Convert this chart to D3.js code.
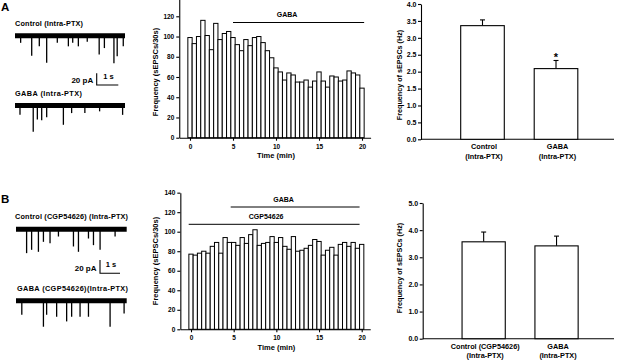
<!DOCTYPE html>
<html>
<head>
<meta charset="utf-8">
<script src="https://cdn.jsdelivr.net/npm/d3@7"></script>
<style>
  body { margin: 0; background: #fff; }
  svg { font-family: "Liberation Sans", Arial, sans-serif; font-weight: bold; }
  .axis path, .axis line { stroke: #000; stroke-width: 1.1; }
  .axis text { font-size: 6.5px; font-weight: bold; fill: #000; }
  .bars .axis text { font-size: 7px; }
</style>
</head>
<body>
<div id="fig"></div>
<script>
// time bins (min), one every 30 s
const timeBins = d3.range(0, 20.5, 0.5);
// sEPSCs per 30 s, panel A
const freqA = [99, 93, 100, 116, 101, 87, 113, 97, 103, 105, 99, 92, 86, 97, 91, 99, 100, 94, 86, 79,
  69, 65, 57, 64, 62, 55, 55, 57, 50, 56, 65, 56, 50, 61, 60, 56, 57, 66, 64, 62, 49];
// sEPSCs per 30 s, panel B
const freqB = [77, 76, 78, 80, 78, 85, 89, 78, 94, 89, 89, 86, 94, 88, 97, 102, 86, 88, 89, 95,
  89, 94, 85, 82, 95, 80, 81, 83, 86, 92, 90, 76, 81, 84, 76, 87, 89, 85, 89, 83, 87];
const timeTicks = [0, 5, 10, 15, 20];

// drug application periods (min)
const drugA = [{ name: "GABA", start: 5, end: 20.25 }];
const drugB = [{ name: "GABA", start: 4.65, end: 19.75 }, { name: "CGP54626", start: -0.27, end: 19.75 }];

// mean frequency (Hz) and SEM
const catsA = [["Control", "(Intra-PTX)"], ["GABA", "(Intra-PTX)"]];
const meanA = [3.36, 2.09];
const semA = [0.17, 0.24];
const catsB = [["Control (CGP54626)", "(Intra-PTX)"], ["GABA", "(Intra-PTX)"]];
const meanB = [3.57, 3.42];
const semB = [0.36, 0.36];

// example traces: event time (s) and amplitude (pA)
const trA1_t = [0.26, 0.77, 1.12, 1.46, 1.95, 2.46, 2.66, 2.92, 3.33, 3.88, 4.12, 4.56, 4.71, 4.99];
const trA1_a = [12, 34, 18, 46, 12, 18, 12, 18, 10, 32, 21, 47, 35, 18];
const trA2_t = [0.23, 0.84, 1.03, 1.23, 1.46, 2.23, 2.61, 3.22, 3.9, 4.96];
const trA2_a = [16, 45, 24, 25, 20, 33, 13, 13, 10, 16];
const trB1_t = [0.53, 0.78, 1.12, 1.37, 1.7, 2.12, 2.87, 3.12, 3.62, 3.87, 4.2, 4.95];
const trB1_a = [36, 31, 34, 19, 21, 11, 26, 34, 14, 24, 31, 11];
const trB2_t = [0.29, 1.37, 1.53, 2.03, 2.53, 2.78, 3.2, 3.62, 4.7, 5.4];
const trB2_a = [21, 39, 21, 24, 31, 24, 24, 24, 39, 19];

const W = 617, H = 363;
const svg = d3.select("#fig").append("svg").attr("width", W).attr("height", H);

// panel letters
svg.append("text").attr("x", 1).attr("y", 11).attr("font-size", 11.5).text("A");
svg.append("text").attr("x", 1).attr("y", 203).attr("font-size", 11.5).text("B");

// ---- traces ----
function trace(title, tt, aa, o) {
  const x = d3.scaleLinear().domain([0, o.dur]).range([o.x0, o.x1]);
  const y = d3.scaleLinear().domain([0, 20]).range([o.base, o.base + o.px20]);
  const g = svg.append("g");
  g.append("text").attr("x", o.x0 + o.tdx).attr("y", o.base - 10).attr("font-size", o.fs)
    .attr("textLength", o.tw).text(title);
  g.append("line").attr("x1", o.x0).attr("x2", o.x1).attr("y1", o.base).attr("y2", o.base)
    .attr("stroke", "#000").attr("stroke-width", 5);
  g.selectAll("line.ev").data(tt).enter().append("line").attr("class", "ev")
    .attr("x1", d => x(d)).attr("x2", d => x(d))
    .attr("y1", o.base).attr("y2", (d, i) => y(aa[i]))
    .attr("stroke", "#000").attr("stroke-width", 1.3);
  return { x, y };
}
trace("Control (Intra-PTX)", trA1_t, trA1_a, { dur: 5.07, x0: 15, x1: 125, base: 35.8, px20: 11.7, tdx: 0, fs: 7.3, tw: 68 });
trace("GABA (Intra-PTX)", trA2_t, trA2_a, { dur: 5.07, x0: 15, x1: 125, base: 105.5, px20: 11.7, tdx: 0, fs: 7.3, tw: 67 });
trace("Control (CGP54626) (Intra-PTX)", trB1_t, trB1_a, { dur: 5.53, x0: 16, x1: 126.7, base: 229.2, px20: 13.3, tdx: -1, fs: 7.3, tw: 113 });
trace("GABA (CGP54626)(Intra-PTX)", trB2_t, trB2_a, { dur: 5.53, x0: 16, x1: 126.7, base: 300.8, px20: 13.3, tdx: 1, fs: 7.3, tw: 111 });

// scale bars
function scaleBar(xv, ytop, ybot, xr, labY) {
  svg.append("path").attr("d", `M${xv},${ytop}V${ybot}H${xr}`)
    .attr("fill", "none").attr("stroke", "#000").attr("stroke-width", 1.1);
  svg.append("text").attr("x", xv - 3.5).attr("y", ybot - 2).attr("text-anchor", "end")
    .attr("font-size", 8).text("20 pA");
  svg.append("text").attr("x", (xv + xr) / 2 + 1).attr("y", labY).attr("text-anchor", "middle")
    .attr("font-size", 7.5).text("1 s");
}
scaleBar(96.7, 73.3, 85, 118.3, 78.5);
scaleBar(100, 260, 273.3, 120, 266.5);

// ---- histograms ----
function histogram(vals, drugs, o) {
  const g = svg.append("g");
  const x = d3.scaleLinear().domain([-1.25, 21]).range([o.x0 - 1.25 * o.ppm, o.x0 + 21 * o.ppm]);
  const y = d3.scaleLinear().domain([0, 140]).range([o.y0, o.y0 - 140 * o.ppu]);
  g.selectAll("rect").data(timeBins).enter().append("rect")
    .attr("x", d => x(d - 0.25)).attr("width", x(0.5) - x(0))
    .attr("y", (d, i) => y(vals[i])).attr("height", (d, i) => y(0) - y(vals[i]))
    .attr("fill", "#fff").attr("stroke", "#000").attr("stroke-width", 1);
  g.append("g").attr("class", "axis").attr("transform", `translate(0,${y(0)})`)
    .call(d3.axisBottom(x).tickValues(timeTicks).tickSize(3).tickPadding(3.5).tickSizeOuter(0));
  g.append("g").attr("class", "axis").attr("transform", `translate(${x(-1.25)},0)`)
    .call(d3.axisLeft(y).tickValues(o.yTicks).tickSize(3).tickPadding(2).tickSizeOuter(0));
  drugs.forEach((d, i) => {
    g.append("line").attr("x1", x(d.start)).attr("x2", x(d.end))
      .attr("y1", o.lineY[i]).attr("y2", o.lineY[i]).attr("stroke", "#000").attr("stroke-width", 1);
    g.append("text").attr("x", (x(d.start) + x(d.end)) / 2 - o.labShift[i]).attr("y", o.lineY[i] - 5.5)
      .attr("text-anchor", "middle").attr("font-size", 7).text(d.name);
  });
  g.append("text").attr("x", x(10)).attr("y", y(0) + 20.5).attr("text-anchor", "middle")
    .attr("font-size", 7.5).text("Time (min)");
  g.append("text").attr("transform", `translate(157.5,${o.labY}) rotate(-90)`)
    .attr("text-anchor", "middle").attr("font-size", 7.5).text("Frequency (sEPSCs/30s)");
}
histogram(freqA, drugA, { x0: 190, ppm: 8.6, y0: 137.7, ppu: 1.0117, yTicks: d3.range(0, 121, 20),
  lineY: [22.5], labShift: [11.5], labY: 72 });
histogram(freqB, drugB, { x0: 191, ppm: 8.535, y0: 329.3, ppu: 0.976, yTicks: d3.range(0, 141, 20),
  lineY: [207, 224.3], labShift: [11.5, 8], labY: 261 });

// ---- mean bar charts ----
function meanChart(cats, mean, sem, o) {
  const g = svg.append("g").attr("class", "bars");
  const keys = cats.map(c => c.join(" "));
  const x = d3.scaleBand().domain(keys).range([o.ax, 617.5]).paddingInner(0.407).paddingOuter(0.54);
  const y = d3.scaleLinear().domain([0, o.ymax]).range([o.y0, o.ytop]);
  g.append("g").attr("class", "axis").attr("transform", `translate(${o.ax},0)`)
    .call(d3.axisLeft(y).tickValues(o.ticks).tickFormat(d3.format(".1f")).tickSize(3).tickPadding(1.5).tickSizeOuter(0));
  g.append("line").attr("x1", o.ax).attr("x2", 614).attr("y1", y(0)).attr("y2", y(0))
    .attr("stroke", "#000").attr("stroke-width", 1.1);
  const bw = x.bandwidth();
  keys.forEach((k, i) => {
    const cx = x(k) + bw / 2;
    g.append("line").attr("x1", cx).attr("x2", cx).attr("y1", y(mean[i])).attr("y2", y(mean[i] + sem[i]))
      .attr("stroke", "#000").attr("stroke-width", 1.1);
    g.append("line").attr("x1", cx - 2.5).attr("x2", cx + 2.5).attr("y1", y(mean[i] + sem[i])).attr("y2", y(mean[i] + sem[i]))
      .attr("stroke", "#000").attr("stroke-width", 1.1);
    g.append("rect").attr("x", x(k)).attr("width", bw).attr("y", y(mean[i])).attr("height", y(0) - y(mean[i]))
      .attr("fill", "#fff").attr("stroke", "#000").attr("stroke-width", 1.1);
    cats[i].forEach((t, j) => {
      g.append("text").attr("x", cx + 1.5).attr("y", y(0) + 10 + j * 9.5).attr("text-anchor", "middle")
        .attr("font-size", 7.3).text(t);
    });
    if (o.star && o.star[i]) {
      g.append("text").attr("x", cx).attr("y", y(mean[i] + sem[i]) + 1).attr("text-anchor", "middle")
        .attr("font-size", 11).text("*");
    }
  });
  g.append("text").attr("transform", `translate(402,${o.labY}) rotate(-90)`)
    .attr("text-anchor", "middle").attr("font-size", 7.2).text("Frequency of sEPSCs (Hz)");
}
meanChart(catsA, meanA, semA, { ax: 421, ymax: 4, y0: 139.3, ytop: 4, ticks: d3.range(0, 4.01, 0.5),
  star: [false, true], labY: 75 });
meanChart(catsB, meanB, semB, { ax: 422.7, ymax: 5, y0: 338.7, ytop: 203, ticks: d3.range(0, 5.01, 1),
  labY: 268 });
</script>
</body>
</html>
